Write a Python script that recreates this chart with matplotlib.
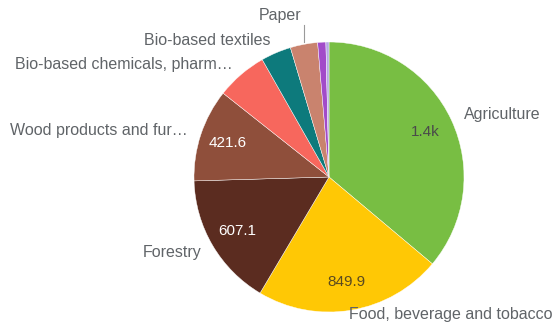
import matplotlib.pyplot as plt
import numpy as np

plt.rcParams['font.family'] = ['Liberation Sans', 'DejaVu Sans']

# sector values, clockwise from 12 o'clock
sectors = ["Agriculture", "Food, beverage and tobacco", "Forestry",
           "Wood products and fur\u2026", "Bio-based chemicals, pharm\u2026",
           "Bio-based textiles", "Paper", "Bio-based electricity", "Other"]
values = [1370, 849.9, 607.1, 421.6, 232, 137, 124, 37, 14]
value_labels = ["1.4k", "849.9", "607.1", "421.6", "", "", "", "", ""]
colors = ["#78BE43", "#FFC805", "#5B2C20", "#8F4F3B", "#F7675D",
          "#0D7A7C", "#C9836E", "#A24BC9", "#B7A9E6"]
value_colors = ["#4a4a4a", "#5a4a20", "white", "white"]

fig = plt.figure(figsize=(5.59, 3.27), dpi=100)
ax = fig.add_axes([0, 0, 1, 1])

cx, cy, r = 329, 150, 135
wedges, _ = ax.pie(values, colors=colors, startangle=90, counterclock=False,
                   center=(cx, cy), radius=r, frame=True,
                   wedgeprops=dict(linewidth=0.3, edgecolor='white'))
ax.set_xlim(0, 559)
ax.set_ylim(0, 327)
ax.set_aspect('equal')
ax.axis('off')

label_color = "#606468"
for i, w in enumerate(wedges):
    mid = np.deg2rad((w.theta1 + w.theta2) / 2)
    dx, dy = np.cos(mid), np.sin(mid)
    if value_labels[i]:
        ax.text(cx + 0.79 * r * dx, cy + 0.79 * r * dy, value_labels[i],
                ha='center', va='center', fontsize=11, color=value_colors[i])
    if i >= 7:
        continue
    if sectors[i] == "Paper":
        # small slice: label lifted above with a leader line
        x0 = cx + 1.0 * r * dx
        y0 = cy + 1.02 * r * dy
        ax.plot([x0, x0], [y0, y0 + 17], color="#9a9a9a", lw=0.8)
        ax.text(x0 - 2, y0 + 26, sectors[i], ha='right', va='center',
                fontsize=11.5, color=label_color)
        continue
    if i == 1:
        tx, ty = cx + 1.05 * r * dx - 4, cy + 1.05 * r * dy + 2
    else:
        tx, ty = cx + 1.1 * r * dx, cy + 1.1 * r * dy
    ax.text(tx, ty, sectors[i], ha='left' if dx > 0 else 'right',
            va='center', fontsize=11.5, color=label_color)

fig.savefig("out.png", dpi=100)
